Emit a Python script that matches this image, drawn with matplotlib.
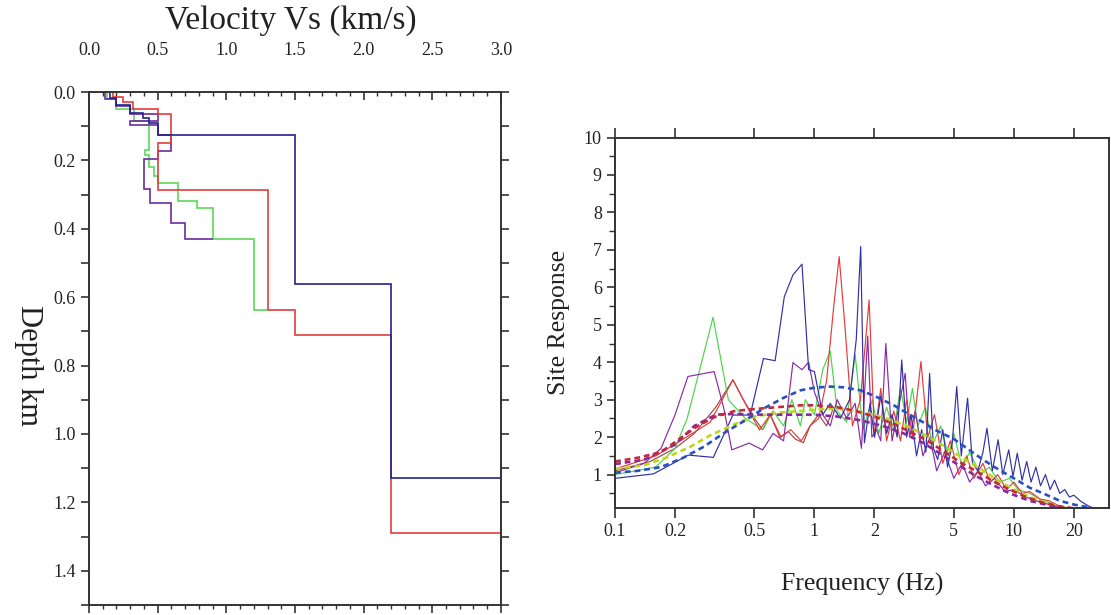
import numpy as np
import matplotlib
matplotlib.use("Agg")
import matplotlib.pyplot as plt
from matplotlib.ticker import MultipleLocator, NullLocator, FixedLocator

plt.rcParams['font.family'] = ['Liberation Serif', 'DejaVu Serif']

# Velocity profiles (Vs in km/s, layer boundaries in km)
blue_vs = [0.15, 0.20, 0.30, 0.39, 0.44, 0.50, 1.50, 2.20, 3.00]
blue_depth = [0.0, 0.017, 0.039, 0.06, 0.077, 0.09, 0.127, 0.56, 1.13, 1.5]

red_vs = [0.175, 0.25, 0.32, 0.50, 0.60, 0.50, 1.30, 1.50, 2.20, 3.00]
red_depth = [0.0, 0.015, 0.03, 0.049, 0.065, 0.148, 0.287, 0.637, 0.71, 1.29, 1.5]

green_vs = [0.13, 0.20, 0.33, 0.44, 0.41, 0.44, 0.47, 0.50, 0.65, 0.785, 0.90, 1.20, 1.30]
green_depth = [0.0, 0.02, 0.05, 0.085, 0.17, 0.185, 0.22, 0.245, 0.267, 0.32, 0.34, 0.43, 0.637, 0.637]

purple_vs = [0.12, 0.20, 0.30, 0.50, 0.30, 0.50, 0.60, 0.50, 0.40, 0.445, 0.595, 0.70, 0.90]
purple_depth = [0.0, 0.02, 0.04, 0.065, 0.085, 0.097, 0.127, 0.173, 0.197, 0.285, 0.324, 0.384, 0.43, 0.43]

# Site response spectra (observed, solid)
navy_f = [0.1, 0.156, 0.233, 0.311, 0.39, 0.476, 0.555, 0.635, 0.706, 0.78, 0.866, 0.935, 1.0, 1.1,
          1.2, 1.35, 1.5, 1.62, 1.706, 1.78, 1.9, 2.0, 2.15, 2.3, 2.45, 2.6, 2.74, 2.9, 3.05, 3.25,
          3.45, 3.62, 3.78, 3.95, 4.15, 4.4, 4.65, 4.9, 5.17, 5.45, 5.86, 6.2, 6.6, 7.0, 7.33, 7.8,
          8.34, 8.8, 9.42, 9.9, 10.4, 11.0, 11.6, 12.2, 12.9, 13.6, 14.4, 15.2, 16.0, 17.0, 18.0,
          19.0, 20.0, 21.5, 23.0, 25.0]
navy_amp = [0.9, 1.02, 1.52, 1.46, 2.59, 2.59, 4.1, 4.04, 5.75, 6.33, 6.62, 3.8, 3.75, 2.6,
            2.9, 2.5, 3.0, 4.6, 7.09, 1.85, 2.9, 2.0, 3.1, 2.1, 2.6, 2.0, 4.06, 2.0, 2.6, 1.5,
            2.2, 1.6, 3.7, 1.7, 1.4, 2.2, 1.2, 1.8, 3.35, 1.5, 3.04, 1.3, 1.1, 1.6, 2.24, 1.1,
            1.93, 1.0, 1.66, 0.95, 1.57, 0.85, 1.35, 0.8, 1.2, 0.7, 1.0, 0.6, 0.85, 0.5, 0.6,
            0.4, 0.45, 0.3, 0.2, 0.1]

red_f = [0.1, 0.16, 0.22, 0.3, 0.39, 0.46, 0.53, 0.6, 0.68, 0.76, 0.86, 0.95, 1.05, 1.15, 1.25,
         1.33, 1.42, 1.55, 1.7, 1.88, 2.0, 2.15, 2.3, 2.5, 2.7, 2.9, 3.1, 3.42, 3.7, 4.0, 4.4,
         4.8, 5.3, 5.8, 6.3, 7.0, 7.6, 8.3, 9.2, 10.0, 11.0, 12.0, 13.5, 15.0, 17.0, 19.0]
red_amp = [1.15, 1.5, 1.95, 2.4, 3.53, 2.8, 2.19, 2.6, 2.0, 2.2, 1.9, 2.3, 2.5, 3.5, 5.5,
           6.82, 5.0, 2.3, 3.0, 5.66, 2.0, 3.3, 1.9, 2.7, 1.9, 3.0, 2.0, 4.02, 2.0, 2.6, 1.3,
           1.9, 1.0, 1.5, 0.9, 1.3, 0.8, 1.0, 0.6, 0.8, 0.5, 0.55, 0.35, 0.3, 0.15, 0.1]

green_f = [0.1, 0.16, 0.2, 0.23, 0.31, 0.37, 0.45, 0.55, 0.62, 0.7, 0.77, 0.85, 0.9, 1.0, 1.1,
           1.2, 1.3, 1.45, 1.6, 1.75, 1.95, 2.1, 2.3, 2.5, 2.7, 2.9, 3.1, 3.3, 3.6, 3.9, 4.3,
           4.7, 5.0, 5.5, 6.0, 6.8, 7.5, 8.5, 9.5, 10.5, 12.0, 14.0, 16.0, 19.0]
green_amp = [1.0, 1.2, 1.7, 2.5, 5.2, 3.0, 2.5, 2.2, 2.7, 2.3, 3.0, 2.3, 3.0, 2.6, 3.8,
             4.3, 2.7, 2.4, 4.2, 2.2, 3.0, 2.1, 2.8, 2.2, 3.3, 2.4, 3.3, 2.3, 2.8, 1.8, 2.3,
             1.5, 2.1, 1.2, 1.6, 1.0, 1.2, 0.8, 0.9, 0.6, 0.5, 0.3, 0.2, 0.1]

purple_f = [0.1, 0.14, 0.17, 0.2, 0.232, 0.314, 0.35, 0.385, 0.47, 0.55, 0.62, 0.7, 0.78, 0.866,
            0.935, 1.0, 1.1, 1.2, 1.3, 1.45, 1.6, 1.72, 1.85, 1.94, 2.05, 2.15, 2.28, 2.45, 2.6,
            2.85, 3.0, 3.2, 3.5, 3.8, 4.1, 4.5, 5.0, 5.5, 6.0, 6.6, 7.2, 8.0, 9.0, 10.0, 11.5,
            13.0, 15.0, 17.0, 19.0]
purple_amp = [1.05, 1.3, 1.7, 2.6, 3.62, 3.75, 2.8, 1.66, 1.84, 1.66, 2.1, 1.9, 3.99, 3.8,
              4.0, 3.2, 2.6, 2.3, 3.0, 2.5, 2.9, 1.7, 4.7, 2.0, 2.2, 1.9, 4.5, 1.9, 2.6,
              3.7, 2.0, 2.7, 1.5, 2.0, 1.1, 1.6, 0.9, 1.3, 0.8, 1.1, 0.7, 0.9, 0.55, 0.6, 0.4,
              0.3, 0.2, 0.12, 0.1]

brown_f = [0.1, 0.15, 0.2, 0.25, 0.32, 0.39, 0.44, 0.5, 0.55, 0.6, 0.67, 0.74, 0.8, 0.88, 0.95,
           1.05, 1.15, 1.25]
brown_amp = [1.1, 1.35, 1.7, 2.1, 2.8, 3.53, 3.0, 2.5, 2.2, 2.6, 2.0, 2.15, 1.95, 1.85, 2.3,
             2.6, 2.3, 2.8]

# Theoretical responses (dashed)
dblue_f = [0.1, 0.13, 0.17, 0.22, 0.28, 0.35, 0.45, 0.55, 0.7, 0.85, 1.0, 1.2, 1.4, 1.7, 2.0,
           2.5, 3.0, 3.5, 4.0, 5.0, 6.0, 7.0, 8.0, 10.0, 12.0, 14.0, 17.0, 20.0, 24.0, 27.0]
dblue_amp = [1.05, 1.1, 1.2, 1.45, 1.75, 2.1, 2.45, 2.75, 3.05, 3.25, 3.32, 3.35, 3.33, 3.25,
             3.1, 2.85, 2.6, 2.4, 2.2, 1.95, 1.65, 1.4, 1.2, 0.9, 0.65, 0.5, 0.3, 0.2, 0.12, 0.05]

dred_f = [0.1, 0.13, 0.17, 0.21, 0.26, 0.32, 0.4, 0.5, 0.65, 0.85, 1.0, 1.3, 1.6, 2.0, 2.5,
          3.0, 3.7, 4.5, 5.5, 6.7, 8.0, 9.5, 11.5, 14.0, 17.0, 20.0]
dred_amp = [1.35, 1.45, 1.6, 1.95, 2.3, 2.55, 2.7, 2.75, 2.8, 2.85, 2.85, 2.8, 2.7, 2.55, 2.35,
            2.15, 1.9, 1.6, 1.3, 1.05, 0.8, 0.6, 0.4, 0.25, 0.15, 0.1]

dpurple_f = [0.1, 0.14, 0.2, 0.25, 0.32, 0.4, 0.55, 0.8, 1.0, 1.3, 1.7, 2.2, 2.8, 3.5, 4.3,
             5.3, 6.5, 8.0, 9.5, 12.0, 15.0, 18.0]
dpurple_amp = [1.28, 1.4, 1.8, 2.3, 2.6, 2.62, 2.6, 2.6, 2.6, 2.55, 2.45, 2.3, 2.1, 1.85, 1.55,
               1.25, 0.95, 0.7, 0.5, 0.3, 0.18, 0.1]

dyellow_f = [0.1, 0.14, 0.18, 0.24, 0.3, 0.4, 0.5, 0.65, 0.85, 1.1, 1.4, 1.8, 2.3, 2.9, 3.6,
             4.5, 5.5, 6.8, 8.3, 10.0, 12.0, 15.0, 18.0, 21.0]
dyellow_amp = [1.15, 1.25, 1.45, 1.75, 2.05, 2.35, 2.55, 2.65, 2.7, 2.75, 2.75, 2.65, 2.5, 2.3,
               2.05, 1.75, 1.45, 1.15, 0.85, 0.6, 0.4, 0.22, 0.12, 0.08]

freq_ticks = [0.1, 0.2, 0.5, 1, 2, 5, 10, 20]
freq_labels = ["0.1", "0.2", "0.5", "1", "2", "5", "10", "20"]

SPINE = "#333333"
TEXT = "#222222"


def style_spines(ax):
    for s in ax.spines.values():
        s.set_color(SPINE)
        s.set_linewidth(1.4)


def plot_profiles(ax):
    profiles = [
        (green_vs, green_depth, "#5ad85a"),
        (purple_vs, purple_depth, "#6a2c9c"),
        (red_vs, red_depth, "#e43c3c"),
        (blue_vs, blue_depth, "#22228f"),
    ]
    for vs, depth, color in profiles:
        ax.stairs(vs, depth, orientation="horizontal", baseline=None,
                  color=color, linewidth=1.2)

    ax.set_xlim(0, 3.0)
    ax.set_ylim(1.5, 0)
    ax.xaxis.set_major_locator(MultipleLocator(0.5))
    ax.xaxis.set_minor_locator(MultipleLocator(0.1))
    ax.yaxis.set_major_locator(FixedLocator([0.0, 0.2, 0.4, 0.6, 0.8, 1.0, 1.2, 1.4]))
    ax.yaxis.set_minor_locator(MultipleLocator(0.1))
    ax.xaxis.set_major_formatter(plt.FormatStrFormatter("%.1f"))
    ax.yaxis.set_major_formatter(plt.FormatStrFormatter("%.1f"))
    # bottom ticks point out, top ticks point in with labels well above
    ax.tick_params(axis="x", which="both", bottom=True, top=False, labelbottom=False,
                   direction="out", colors=SPINE)
    ax.tick_params(axis="x", which="major", length=6, width=1.2)
    ax.tick_params(axis="x", which="minor", length=3, width=1.0)
    top = ax.secondary_xaxis("top")
    top.xaxis.set_major_locator(MultipleLocator(0.5))
    top.xaxis.set_minor_locator(MultipleLocator(0.1))
    top.xaxis.set_major_formatter(plt.FormatStrFormatter("%.1f"))
    top.tick_params(which="both", direction="in", colors=SPINE, labelcolor=TEXT)
    top.tick_params(which="major", length=6, width=1.2, labelsize=13, pad=24)
    top.tick_params(which="minor", length=3, width=1.0)
    top.spines["top"].set_visible(False)
    ax.tick_params(axis="y", which="both", left=True, right=True, direction="out",
                   colors=SPINE, labelcolor=TEXT)
    ax.tick_params(axis="y", which="major", length=6, width=1.2, labelsize=13)
    ax.tick_params(axis="y", which="minor", length=6, width=1.2)
    style_spines(ax)


def plot_response(ax):
    solid = [
        (brown_f, brown_amp, "#a04848"),
        (green_f, green_amp, "#4cd44c"),
        (purple_f, purple_amp, "#8a2aa8"),
        (red_f, red_amp, "#e83a3a"),
        (navy_f, navy_amp, "#3030a8"),
    ]
    for f, a, color in solid:
        ax.plot(f, a, color=color, linewidth=0.85)

    dashed = [
        (dyellow_f, dyellow_amp, "#b8d81c"),
        (dpurple_f, dpurple_amp, "#8a2a9a"),
        (dred_f, dred_amp, "#c8283c"),
        (dblue_f, dblue_amp, "#2850c0"),
    ]
    for f, a, color in dashed:
        ax.plot(f, a, color=color, linewidth=1.9, linestyle=(0, (2.2, 1.5)))

    ax.set_xscale("log")
    ax.set_xlim(0.1, 30)
    ax.set_ylim(0.1, 10)
    ax.xaxis.set_major_locator(FixedLocator(freq_ticks))
    ax.xaxis.set_minor_locator(NullLocator())
    ax.set_xticklabels(freq_labels)
    ax.yaxis.set_major_locator(FixedLocator(range(1, 11)))
    ax.yaxis.set_minor_locator(FixedLocator(np.arange(0.5, 10, 1.0)))
    ax.tick_params(axis="x", which="major", top=True, bottom=True, direction="out",
                   length=7, width=1.2, labelsize=13, colors=SPINE, labelcolor=TEXT)
    ax.tick_params(axis="y", which="major", direction="out", length=6, width=1.2,
                   labelsize=13, colors=SPINE, labelcolor=TEXT)
    ax.tick_params(axis="y", which="minor", direction="out", length=4, width=1.0, colors=SPINE)
    ax.set_xlabel("Frequency (Hz)", fontsize=18.5, labelpad=24, color=TEXT)
    ax.set_ylabel("Site Response", fontsize=18.5, labelpad=10, color=TEXT)
    style_spines(ax)


def main():
    fig = plt.figure(figsize=(11.11, 6.15), dpi=100)
    ax1 = fig.add_axes([0.0801, 0.0163, 0.3708, 0.8341])
    ax2 = fig.add_axes([0.5536, 0.1735, 0.4446, 0.6029])

    plot_profiles(ax1)
    plot_response(ax2)

    fig.text(0.262, 0.966, "Velocity Vs (km/s)", ha="center", va="center",
             fontsize=24, color=TEXT)
    fig.text(0.026, 0.405, "Depth km", ha="center", va="center", rotation=270,
             fontsize=22, color=TEXT)

    fig.savefig("out.png", dpi=100)


if __name__ == "__main__":
    main()
